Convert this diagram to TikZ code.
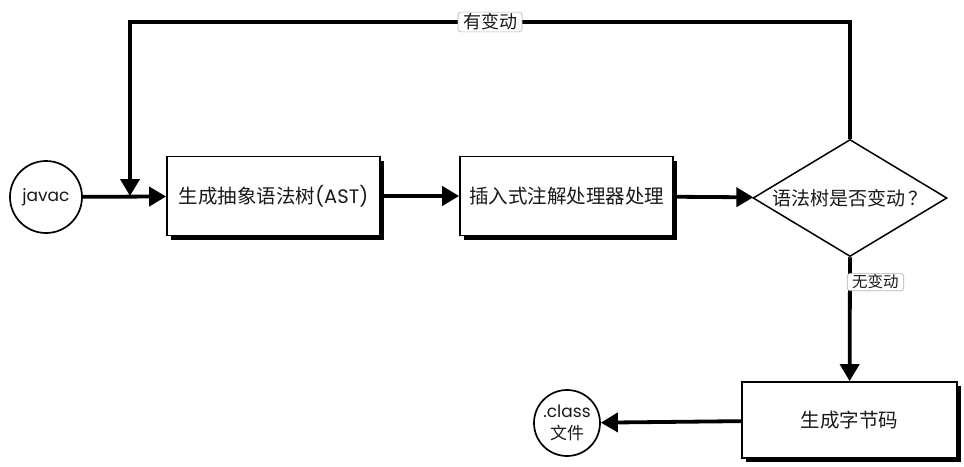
\documentclass[tikz,border=0pt]{standalone}
\usepackage{fontspec}
\setmainfont{Noto Sans CJK SC}
\newfontfamily\latinfont{Poppins}
\usetikzlibrary{arrows.meta, shapes.geometric, shadows}

\begin{document}
\begin{tikzpicture}[x=1pt,y=-1pt,
  every node/.style={text=black!90},
  line/.style={line width=3.8pt,-{Triangle[length=17pt,width=19pt]}},
  proc/.style={draw,line width=1.7pt,fill=white,inner sep=0pt,minimum width=213pt,minimum height=79pt,
    font=\fontsize{19.5}{22}\selectfont,drop shadow={shadow xshift=4pt,shadow yshift=-4pt,fill=black,opacity=1}},
  term/.style={draw,circle,line width=1.7pt,fill=white,inner sep=0pt,align=center},
  tag/.style={draw=black!30,fill=white,rounded corners=3pt,line width=0.6pt,inner xsep=5pt,inner ysep=1.5pt}]
  \useasboundingbox (0,0) rectangle (964,466);
  % main row
  \node[term,minimum size=72pt,font=\latinfont\fontsize{17}{20}\selectfont] (javac) at (46,197) {javac};
  \node[proc] (ast) at (273.5,196) {生成抽象语法树{\latinfont(AST)}};
  \node[proc] (anno) at (566.5,196) {插入式注解处理器处理};
  \node[draw,diamond,line width=1.5pt,fill=white,inner sep=0pt,aspect=1.66,minimum width=194pt,minimum height=117pt,
    font=\fontsize{19}{21}\selectfont] (dec) at (850,198) {语法树是否变动\,？};
  % output
  \node[proc,minimum width=215pt,minimum height=76pt] (byte) at (849.5,420) {生成字节码};
  \node[term,minimum size=66pt,font=\fontsize{17}{22}\selectfont] (class) at (567,423) {{\latinfont .class}\\文件};
  \coordinate (top) at (130,22);
  \coordinate (merge) at (130,196);
  \draw[line] (javac) -- (ast);
  \draw[line] (ast) -- (anno);
  \draw[line] (anno) -- (dec);
  \draw[line] (dec.south) -- node[tag,pos=0.2,anchor=west,xshift=-3pt,font=\fontsize{15.5}{17}\selectfont]{无变动} (byte);
  \draw[line] (byte) -- (class);
  % loop back
  \draw[line] (dec.north) |- node[tag,pos=0.75,inner xsep=5pt,font=\fontsize{18}{19}\selectfont]{有变动} (top) -- (merge);
\end{tikzpicture}
\end{document}
